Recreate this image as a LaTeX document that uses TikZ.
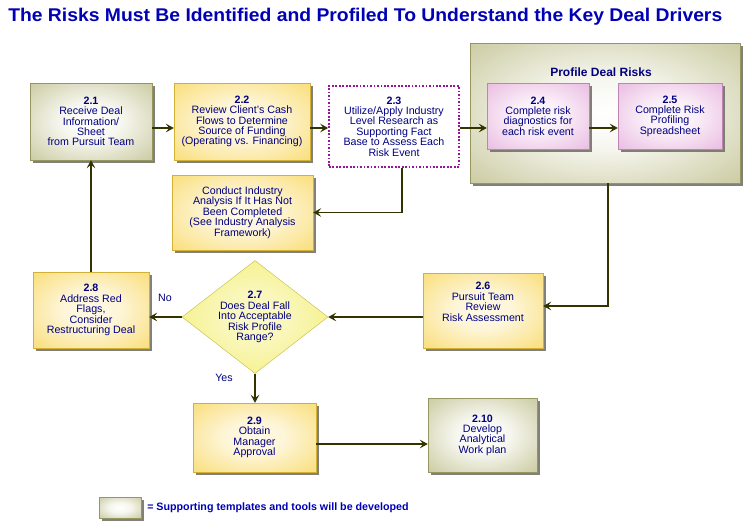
\documentclass[tikz,border=0pt]{standalone}
\usepackage{fontspec}
\setmainfont{Liberation Sans}
\usepackage{graphicx}
\usetikzlibrary{shapes.geometric,arrows.meta,shadows}
\definecolor{olv}{RGB}{176,176,114}
\definecolor{ylw}{RGB}{247,208,64}
\definecolor{pnk}{RGB}{224,156,212}
\definecolor{dia}{RGB}{240,234,80}
\definecolor{navy}{RGB}{0,0,128}
\definecolor{ttl}{RGB}{0,0,180}
\definecolor{arrc}{RGB}{51,51,0}
\definecolor{purp}{RGB}{150,20,150}
\definecolor{shd}{RGB}{115,115,105}
\pgfdeclareradialshading{oshade}{\pgfpoint{0bp}{0bp}}{color(0bp)=(white); color(12bp)=(white!90!olv); color(50bp)=(olv); color(75bp)=(olv)}
\pgfdeclareradialshading{yshade}{\pgfpoint{0bp}{0bp}}{color(0bp)=(white!88!ylw); color(12bp)=(white!80!ylw); color(50bp)=(ylw); color(75bp)=(ylw)}
\pgfdeclareradialshading{pshade}{\pgfpoint{0bp}{0bp}}{color(0bp)=(white!92!pnk); color(12bp)=(white!85!pnk); color(50bp)=(pnk); color(75bp)=(pnk)}
\pgfdeclareradialshading{dshade}{\pgfpoint{0bp}{0bp}}{color(0bp)=(white!70!dia); color(12bp)=(white!60!dia); color(48bp)=(dia); color(75bp)=(dia)}
\begin{document}
\begin{tikzpicture}[x=0.75pt,y=-0.75pt,
  txt/.style={font=\fontsize{8}{7.8}\selectfont, text=navy, align=center},
  box/.style={rectangle, inner sep=0pt, txt,
    drop shadow={shadow xshift=2.2pt, shadow yshift=-2.2pt, fill=shd, opacity=0.9}},
  obox/.style={box, shade, shading=oshade, draw=olv!85!black, line width=0.3pt},
  ybox/.style={box, shade, shading=yshade, draw=ylw!85!black, line width=0.3pt},
  pbox/.style={box, shade, shading=pshade, draw=pnk!85!black, line width=0.3pt},
  dbox/.style={diamond, aspect=1.29, inner sep=0pt, txt, shade, shading=dshade, draw=dia!80!black, line width=0.3pt},
  dotbox/.style={rectangle, inner sep=0pt, txt, fill=white, draw=purp, line width=1.3pt, dash pattern=on 1.3pt off 1.3pt},
  arr/.style={draw=arrc, line width=0.9pt, -{Stealth[length=6pt,width=6.5pt,inset=2.5pt]}},
  num/.style={font=\bfseries}]
\useasboundingbox (0,0) rectangle (747,532);

% title
\node[anchor=base west, inner sep=0pt, text=ttl] (title) at (8,21)
  {\resizebox{535.5pt}{10pt}{\bfseries The Risks Must Be Identified and Profiled To Understand the Key Deal Drivers}};

% profile deal risks group
\node[obox, minimum width=202.5pt, minimum height=105pt] (nP) at (605,113) {};
\node[inner sep=0pt, text=navy, font=\fontsize{9}{10}\selectfont\bfseries] (nPt) at (601,72) {Profile Deal Risks};

% boxes
\node[obox, minimum width=91.5pt, minimum height=57.75pt] (n21) at (91,121.5)
  {\textbf{2.1}\\Receive Deal\\Information/\\Sheet\\from Pursuit Team};
\node[ybox, minimum width=102pt, minimum height=57.75pt] (n22) at (242,121.5)
  {\textbf{2.2}\\Review Client's Cash\\Flows to Determine\\Source of Funding\\(Operating vs. Financing)};
\node[dotbox, minimum width=97.5pt, minimum height=60.75pt] (n23) at (394,126.5)
  {\textbf{2.3}\\Utilize/Apply Industry\\Level Research as\\Supporting Fact\\Base to Assess Each\\Risk Event};
\node[ybox, minimum width=105.75pt, minimum height=56.25pt] (nCI) at (242.5,212.5)
  {Conduct Industry\\Analysis If It Has Not\\Been Completed\\(See Industry Analysis\\Framework)};
\node[pbox, minimum width=76.5pt, minimum height=49.5pt] (n24) at (538,116)
  {\textbf{2.4}\\Complete risk\\diagnostics for\\each risk event};
\node[pbox, minimum width=78pt, minimum height=49.5pt] (n25) at (670,116)
  {\textbf{2.5}\\Complete Risk\\Profiling\\Spreadsheet};
\node[ybox, minimum width=90pt, minimum height=56.25pt, text depth=13pt] (n26) at (483,310.5)
  {\textbf{2.6}\\Pursuit Team\\Review\\Risk Assessment};
\node[dbox, minimum width=109.5pt, minimum height=84.75pt] (nD) at (255,317)
  {\textbf{2.7}\\Does Deal Fall\\Into Acceptable\\Risk Profile\\Range?};
\node[ybox, minimum width=87pt, minimum height=57pt] (n28) at (91,310)
  {\textbf{2.8}\\Address Red\\Flags,\\Consider\\Restructuring Deal};
\node[ybox, minimum width=92.25pt, minimum height=51.75pt] (n29) at (254.5,437.5)
  {\textbf{2.9}\\Obtain\\Manager\\Approval};
\node[obox, minimum width=81.75pt, minimum height=55.5pt] (n210) at (482.5,435)
  {\textbf{2.10}\\Develop\\Analytical\\Work plan};

% legend
\node[obox, minimum width=31.5pt, minimum height=15.75pt] (leg) at (120,507.5) {};
\node[anchor=west, inner sep=0pt, text=ttl] (legt) at (147,508)
  {\resizebox{196pt}{!}{\fontsize{8}{9}\selectfont\bfseries = Supporting templates and tools will be developed}};

% labels
\node[txt] (lno) at (165,298) {No};
\node[txt] (lyes) at (224,378) {Yes};

% routing coordinates
\coordinate (r1) at (0,128);
\coordinate (r2) at (0,306);
\coordinate (r3) at (0,444);

% connectors
\draw[arr] (n21.east |- r1) -- (n22.west |- r1);
\draw[arr] (n22.east |- r1) -- (n23.west |- r1);
\draw[arr] (n23.east |- r1) -- (n24.west |- r1);
\draw[arr] (n24.east |- r1) -- (n25.west |- r1);
\draw[arr] ([xshift=6pt]n23.south) |- (nCI.east);
\draw[arr] ([xshift=2.25pt]nP.south) |- (n26.east |- r2);
\draw[arr] (n26.west |- nD.east) -- (nD.east);
\draw[arr] (nD.west) -- (n28.east |- nD.west);
\draw[arr] (n28.north) -- (n21.south);
\draw[arr] (nD.south) -- (nD.south |- n29.north);
\draw[arr] (n29.east |- r3) -- (n210.west |- r3);
\end{tikzpicture}
\end{document}
